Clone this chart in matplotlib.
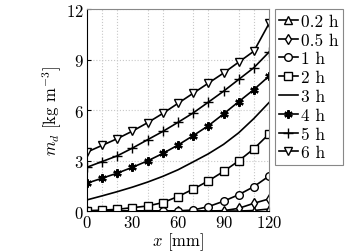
import numpy as np
import matplotlib
matplotlib.use('Agg')
import matplotlib.pyplot as plt

plt.rcParams['font.family'] = 'serif'
plt.rcParams['font.serif'] = ['cmr10']
plt.rcParams['mathtext.fontset'] = 'cm'
plt.rcParams['axes.formatter.use_mathtext'] = True

# positions along the sample, mm
x = [0, 10, 20, 30, 40, 50, 60, 70, 80, 90, 100, 110, 120]

# m_d profiles, kg m^-3
md_02h = [0, 0, 0, 0, 0, 0, 0, 0, 0, 0, 0.0, 0.03, 0.12]
md_05h = [0, 0, 0, 0, 0, 0, 0, 0, 0, 0.02, 0.16, 0.46, 0.72]
md_1h = [0, 0, 0, 0, 0, 0, 0.01, 0.06, 0.26, 0.58, 0.97, 1.45, 2.08]
md_2h = [0.02, 0.05, 0.1, 0.2, 0.3, 0.5, 0.86, 1.3, 1.79, 2.35, 2.98, 3.7, 4.58]
md_3h = [0.66, 0.9, 1.15, 1.42, 1.72, 2.06, 2.45, 2.92, 3.4, 3.96, 4.65, 5.5, 6.45]
md_4h = [1.65, 1.95, 2.25, 2.6, 2.98, 3.42, 3.92, 4.48, 5.07, 5.77, 6.5, 7.22, 8.02]
md_5h = [2.6, 2.94, 3.28, 3.74, 4.24, 4.73, 5.27, 5.83, 6.47, 7.12, 7.82, 8.52, 9.45]
md_6h = [3.5, 3.9, 4.3, 4.75, 5.25, 5.8, 6.4, 7.0, 7.6, 8.2, 8.85, 9.5, 11.15]

labels = ['0.2 h', '0.5 h', '1 h', '2 h', '3 h', '4 h', '5 h', '6 h']
series = [md_02h, md_05h, md_1h, md_2h, md_3h, md_4h, md_5h, md_6h]
markers = ['^', 'd', 'o', 's', None, '*', '+', 'v']

fig = plt.figure(figsize=(3.49, 2.53), dpi=100)
ax = fig.add_axes([0.249, 0.162, 0.522, 0.798])

for ys, lab, m in zip(series, labels, markers):
    if m is None:
        ax.plot(x, ys, color='k', lw=1.2, label=lab)
    elif m == '*':
        # asterisk-like blob
        ax.plot(x, ys, color='k', lw=1.2, marker=(6, 2, 0), ms=6, mew=1.6, mec='k', label=lab)
    elif m == '+':
        ax.plot(x, ys, color='k', lw=1.2, marker=m, ms=7, mew=1.0, label=lab)
    else:
        ax.plot(x, ys, color='k', lw=1.2, marker=m, ms=5.5, mfc='white', mec='k', mew=1.0, label=lab)

ax.set_xlim(0, 120)
ax.set_ylim(0, 12)
ax.set_xticks([0, 30, 60, 90, 120])
ax.set_xticks(np.arange(0, 121, 10), minor=True)
ax.set_yticks([0, 3, 6, 9, 12])
ax.grid(True, which='minor', axis='x', color='#c8c8c8', ls=':', lw=0.8)
ax.grid(True, which='major', axis='y', color='#c8c8c8', ls=':', lw=0.8)
ax.tick_params(which='both', direction='in', labelsize=12, length=3, pad=2)
ax.tick_params(which='minor', length=0)
for s in ['top', 'right']:
    ax.spines[s].set_color('#888888')
ax.set_xlabel(r'$x$ [mm]', fontsize=12, labelpad=0)
ax.set_ylabel(r'$m_d$ [kg m$^{-3}$]', fontsize=12, labelpad=2)

leg = ax.legend(loc='upper left', bbox_to_anchor=(1.03, 1.0), borderaxespad=0,
                fontsize=12.5, handlelength=1.1, handletextpad=0.2,
                labelspacing=0.2, borderpad=0.25, fancybox=False, framealpha=1)
leg.get_frame().set_edgecolor('#888888')
leg.get_frame().set_linewidth(0.8)

fig.savefig('out.png', dpi=100)
